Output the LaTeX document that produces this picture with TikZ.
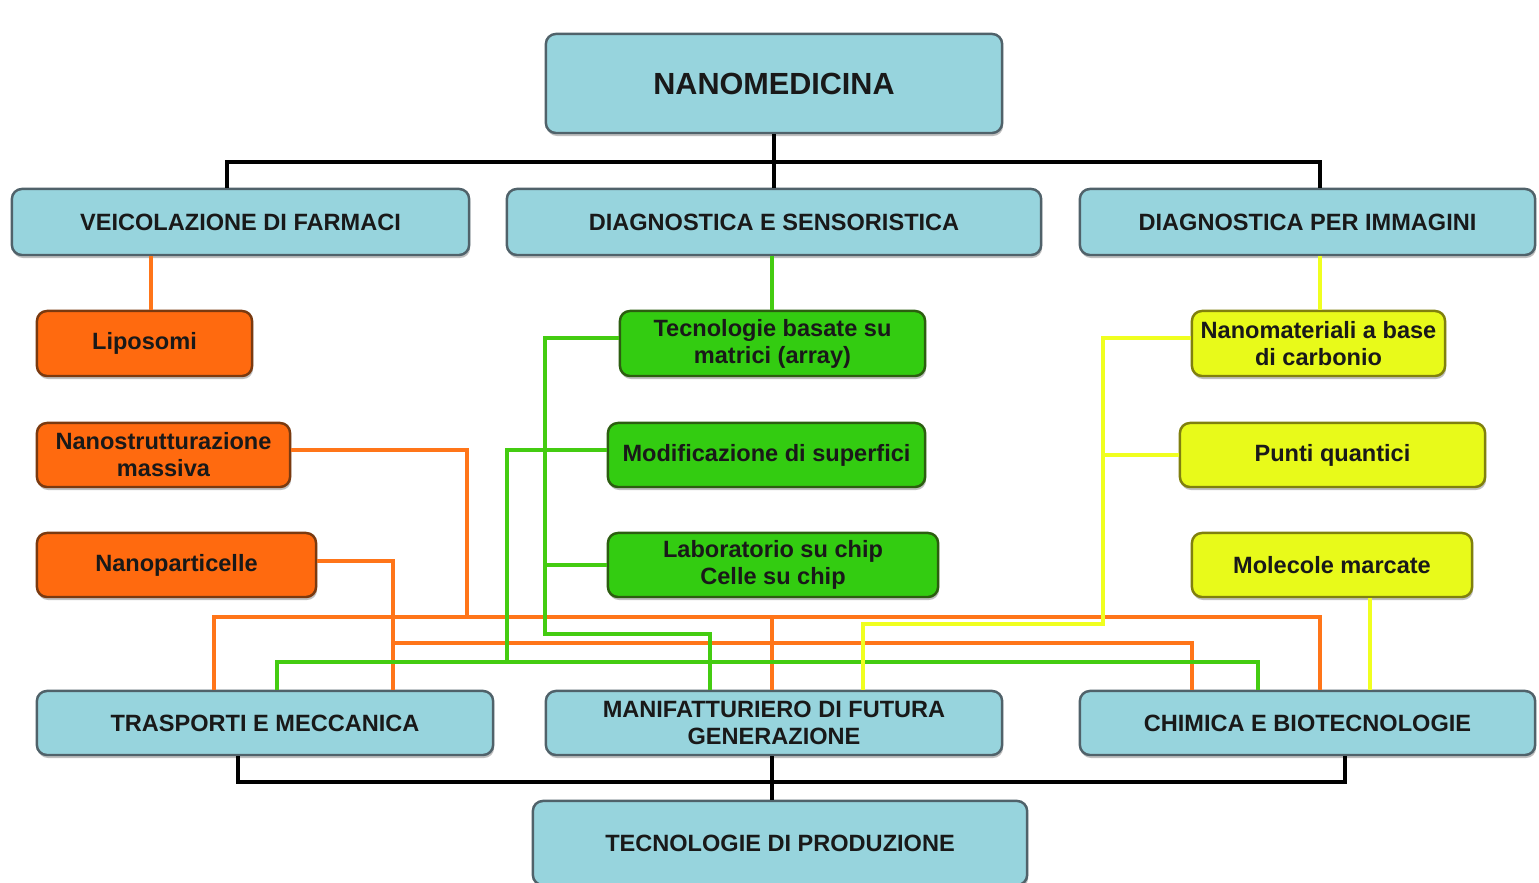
\documentclass[tikz,border=0pt]{standalone}
\usepackage{fontspec}
\setmainfont{Liberation Sans}
\usetikzlibrary{shadows}
\definecolor{bluef}{HTML}{97D4DD}
\definecolor{blued}{HTML}{50626A}
\definecolor{orgf}{HTML}{FF6A0F}
\definecolor{orgd}{HTML}{7A3A10}
\definecolor{grnf}{HTML}{33CC11}
\definecolor{grnd}{HTML}{2C5E10}
\definecolor{ylwf}{HTML}{E8FA1A}
\definecolor{ylwd}{HTML}{80800E}
\definecolor{orgl}{HTML}{FF7519}
\definecolor{grnl}{HTML}{44CC11}
\definecolor{ylwl}{HTML}{F0FF20}
\tikzset{
  boxbase/.style={rounded corners=0.1cm, line width=0.7pt, inner sep=0pt, align=center,
    text=black!90, font=\fontsize{6.7}{7.7}\selectfont\bfseries,
    drop shadow={shadow xshift=0.01cm, shadow yshift=-0.03cm, fill=black, opacity=0.25}},
  bluebox/.style={boxbase, fill=bluef, draw=blued},
  orgbox/.style={boxbase, fill=orgf, draw=orgd},
  grnbox/.style={boxbase, fill=grnf, draw=grnd},
  ylwbox/.style={boxbase, fill=ylwf, draw=ylwd},
  blk/.style={line width=1.4pt, draw=black},
  org/.style={line width=1.4pt, draw=orgl},
  grn/.style={line width=1.4pt, draw=grnl},
  ylw/.style={line width=1.4pt, draw=ylwl},
}
\begin{document}
\begin{tikzpicture}[x=0.01cm, y=-0.01cm]
\useasboundingbox[fill=white] (0,0) rectangle (1539,883);
% top level
\node[bluebox, minimum width=4.56cm, minimum height=0.99cm, font=\fontsize{8.7}{10}\selectfont\bfseries] (nano) at (774,83.5) {NANOMEDICINA};
\node[bluebox, minimum width=4.57cm, minimum height=0.66cm] (veic) at (240.5,222) {VEICOLAZIONE DI FARMACI};
\node[bluebox, minimum width=5.34cm, minimum height=0.66cm] (diag) at (774,222) {DIAGNOSTICA E SENSORISTICA};
\node[bluebox, minimum width=4.55cm, minimum height=0.66cm] (imm) at (1307.5,222) {DIAGNOSTICA PER IMMAGINI};
% orange
\node[orgbox, minimum width=2.15cm, minimum height=0.65cm] (lipo) at (144.5,343.5) {Liposomi};
\node[orgbox, minimum width=2.53cm, minimum height=0.64cm] (nstr) at (163.5,455) {Nanostrutturazione\\massiva};
\node[orgbox, minimum width=2.79cm, minimum height=0.64cm] (npart) at (176.5,565) {Nanoparticelle};
% green
\node[grnbox, minimum width=3.05cm, minimum height=0.65cm] (tecm) at (772.5,343.5) {Tecnologie basate su\\matrici (array)};
\node[grnbox, minimum width=3.17cm, minimum height=0.64cm] (modi) at (766.5,455) {Modificazione di superfici};
\node[grnbox, minimum width=3.30cm, minimum height=0.64cm] (lab) at (773,565) {Laboratorio su chip\\Celle su chip};
% yellow
\node[ylwbox, minimum width=2.53cm, minimum height=0.65cm] (ncarb) at (1318.5,343.5) {Nanomateriali a base\\di carbonio};
\node[ylwbox, minimum width=3.05cm, minimum height=0.64cm] (punti) at (1332.5,455) {Punti quantici};
\node[ylwbox, minimum width=2.80cm, minimum height=0.64cm] (molec) at (1332,565) {Molecole marcate};
% bottom level
\node[bluebox, minimum width=4.56cm, minimum height=0.64cm] (tras) at (265,723) {TRASPORTI E MECCANICA};
\node[bluebox, minimum width=4.56cm, minimum height=0.64cm] (manif) at (774,723) {MANIFATTURIERO DI FUTURA\\GENERAZIONE};
\node[bluebox, minimum width=4.55cm, minimum height=0.64cm] (chim) at (1307.5,723) {CHIMICA E BIOTECNOLOGIE};
\node[bluebox, minimum width=4.94cm, minimum height=0.84cm] (tprod) at (780,843) {TECNOLOGIE DI PRODUZIONE};
% black tree
\draw[blk] (nano.south) -- (diag.north);
\draw[blk] (veic.north -| 227,0) |- (774,162) -| (imm.north -| 1320,0);
\draw[blk] (manif.south -| 772,0) -- (tprod.north -| 772,0);
\draw[blk] (tras.south -| 238,0) |- (772,782) -| (chim.south -| 1345,0);
% orange connectors
\draw[org] (veic.south -| 151,0) -- (lipo.north -| 151,0);
\draw[org] ([yshift=0.05cm]nstr.east) -| (467,617);
\draw[org] (tras.north -| 214,0) |- (1320,617) -- (chim.north -| 1320,0);
\draw[org] (772,617) -- (manif.north -| 772,0);
\draw[org] ([yshift=0.04cm]npart.east) -| (tras.north -| 393,0);
\draw[org] (393,643) -| (chim.north -| 1192,0);
% green connectors
\draw[grn] (diag.south -| 772,0) -- (tecm.north -| 772,0);
\draw[grn] ([yshift=0.055cm]tecm.west) -| (545,634) -| (manif.north -| 710,0);
\draw[grn] (lab.west) -- (lab.west -| 545,0);
\draw[grn] ([yshift=0.05cm]modi.west) -| (507,662);
\draw[grn] (tras.north -| 277,0) |- (1258,662) -- (chim.north -| 1258,0);
% yellow connectors
\draw[ylw] (imm.south -| 1320,0) -- (ncarb.north -| 1320,0);
\draw[ylw] ([yshift=0.055cm]ncarb.west) -| (1103,624) -| (manif.north -| 863,0);
\draw[ylw] (punti.west) -- (punti.west -| 1103,0);
\draw[ylw] (molec.south -| 1370,0) -- (chim.north -| 1370,0);
\end{tikzpicture}
\end{document}
